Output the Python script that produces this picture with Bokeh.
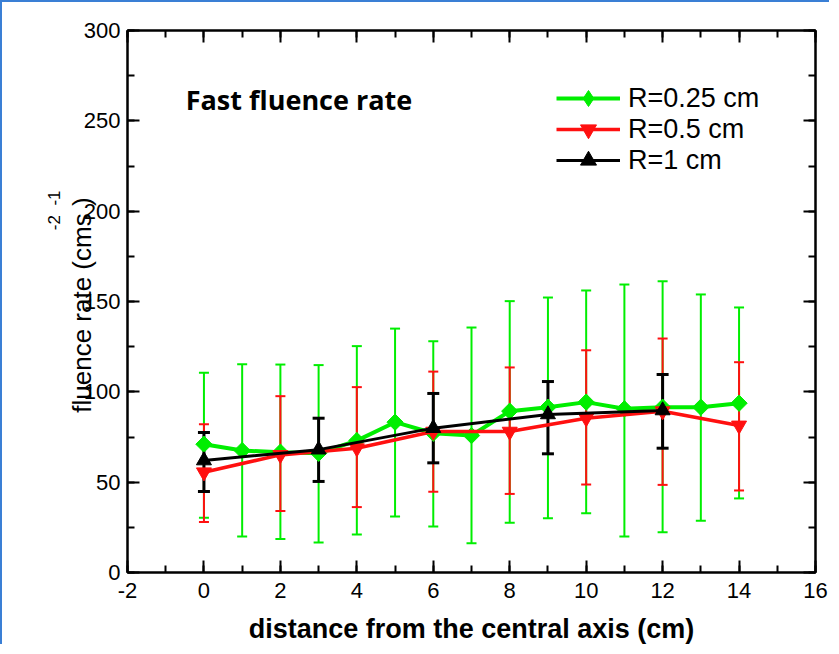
import numpy as np
from bokeh.plotting import figure
from bokeh.models import (ColumnDataSource, Whisker, TeeHead, Range1d, LinearAxis,
                          SingleIntervalTicker, Label, Legend, LegendItem, Title,
                          CustomLabelingPolicy, NumeralTickFormatter)
from bokeh.embed import file_html
from bokeh.resources import INLINE

# ---- data ----
x_green = [0, 1, 2, 3, 4, 5, 6, 7, 8, 9, 10, 11, 12, 13, 14]
y_green = [71, 67.5, 66.6, 66, 73, 83.2, 77.1, 75.8, 89.3, 91.5, 94.3, 90.6, 91.5, 91.5, 93.7]
green_upper = [110.5, 115.3, 115.1, 114.8, 125.3, 135, 128, 135.6, 150.2, 152.2, 156.1, 159.4, 161.2, 153.9, 146.7]
green_lower = [30.3, 19.9, 18.5, 16.6, 21, 31, 25.5, 16.2, 27.5, 30, 32.8, 19.9, 22.3, 28.6, 41]

x_red = [0, 2, 4, 6, 8, 10, 12, 14]
y_red = [55.5, 65.1, 68.8, 78, 78, 85.4, 89.3, 81.4]
red_upper = [82.1, 97.6, 102.6, 111.2, 113.5, 123, 129.5, 116.4]
red_lower = [27.9, 34, 36.2, 44.7, 43.5, 48.7, 48.5, 45.4]

x_black = [0, 3, 6, 9, 12]
y_black = [62, 68, 79.9, 87.5, 89.7]
black_upper = [77.5, 85.4, 99.1, 105.7, 109.6]
black_lower = [44.8, 50.4, 60.7, 65.7, 68.8]

labels = ["R=0.25 cm", "R=0.5 cm", "R=1 cm"]

GREEN = "#00ee00"
RED = "#ff1010"
BLACK = "#000000"
BLUE = "#3a7fd5"
FONT = "Liberation Sans"

p = figure(width=829, height=644, x_range=Range1d(-2, 16), y_range=Range1d(0, 300),
           output_backend="svg", toolbar_location=None,
           min_border_left=125, min_border_right=16, min_border_top=28, min_border_bottom=74,
           background_fill_color="white", border_fill_color="white",
           outline_line_color="black", outline_line_width=2)
p.styles = {"border-top": f"2px solid {BLUE}", "border-left": f"2px solid {BLUE}"}
p.grid.visible = False

no_labels = CustomLabelingPolicy(code="return new Set()")


def style_axis(ax, interval, show_labels=True):
    ax.ticker = SingleIntervalTicker(interval=interval, num_minor_ticks=2)
    ax.axis_line_width = 2
    ax.axis_line_color = "black"
    ax.major_tick_in = 12
    ax.major_tick_out = 0
    ax.minor_tick_in = 7
    ax.minor_tick_out = 0
    ax.major_tick_line_width = 2
    ax.minor_tick_line_width = 2
    ax.major_tick_line_color = "black"
    ax.minor_tick_line_color = "black"
    if show_labels:
        ax.formatter = NumeralTickFormatter(format="0")
        ax.major_label_text_font = FONT
        ax.major_label_text_font_size = "22px"
        ax.major_label_text_color = "black"
    else:
        ax.major_label_policy = no_labels
        ax.major_label_text_font_size = "8px"
        ax.major_label_standoff = 0


xa = p.xaxis[0]
ya = p.yaxis[0]
style_axis(xa, 2)
style_axis(ya, 50)
xa.major_label_standoff = 10
ya.major_label_standoff = 7

xa.axis_label = "distance from the central axis (cm)"
xa.axis_label_text_font = FONT
xa.axis_label_text_font_style = "bold"
xa.axis_label_text_font_size = "27px"
xa.axis_label_text_color = "black"
xa.axis_label_standoff = 13

ya.axis_label = "fluence rate (cms  )"
ya.axis_label_text_font = FONT
ya.axis_label_text_font_style = "normal"
ya.axis_label_text_font_size = "26px"
ya.axis_label_text_color = "black"
ya.axis_label_standoff = -16

top_ax = LinearAxis()
style_axis(top_ax, 2, show_labels=False)
p.add_layout(top_ax, "above")
right_ax = LinearAxis()
style_axis(right_ax, 50, show_labels=False)
p.add_layout(right_ax, "right")

# superscripts of the unit (cm-2 s-1), placed like in the reference
p.add_layout(Title(text="-2\u00a0\u00a0-1", align="right", offset=160, standoff=0,
                   text_font=FONT, text_font_size="17px", text_font_style="normal",
                   text_color="black"), "left")

# ---- error bars ----
def add_whisker(xs, lo, hi, color, lw, cap):
    src = ColumnDataSource(dict(x=xs, lower=lo, upper=hi))
    w = Whisker(source=src, base="x", lower="lower", upper="upper",
                line_color=color, line_width=lw,
                upper_head=TeeHead(size=cap, line_color=color, line_width=lw),
                lower_head=TeeHead(size=cap, line_color=color, line_width=lw))
    p.add_layout(w)

add_whisker(x_green, green_lower, green_upper, GREEN, 2, 10)
add_whisker(x_red, red_lower, red_upper, RED, 2, 10)
add_whisker(x_black, black_lower, black_upper, BLACK, 3, 12)

# ---- lines and markers ----
g_line = p.line(x_green, y_green, line_color=GREEN, line_width=4)
g_mark = p.scatter(x_green, y_green, marker="square", angle=np.pi / 4, size=11.5,
                   fill_color=GREEN, line_color=GREEN)
# diamond drawn inside the rotated squares; used for the legend symbol
g_leg = p.scatter(x_green, y_green, marker="diamond", size=16,
                  fill_color=GREEN, line_color=GREEN)
r_line = p.line(x_red, y_red, line_color=RED, line_width=3.5)
r_mark = p.scatter(x_red, y_red, marker="inverted_triangle", size=15,
                   fill_color=RED, line_color=RED)
b_line = p.line(x_black, y_black, line_color=BLACK, line_width=3)
b_mark = p.scatter(x_black, y_black, marker="triangle", size=15,
                   fill_color=BLACK, line_color=BLACK)

entries = [(labels[0], [g_line, g_leg], 454),
           (labels[1], [r_line, r_mark], 423),
           (labels[2], [b_line, b_mark], 392)]
for lab, rends, ybot in entries:
    lg = Legend(items=[LegendItem(label=lab, renderers=rends)],
                location=(429, ybot), glyph_width=64, glyph_height=40, label_height=40,
                spacing=0, padding=0, margin=0, border_line_color=None,
                background_fill_alpha=0, label_standoff=8,
                label_text_font=FONT, label_text_font_size="27px", label_text_color="black")
    p.add_layout(lg)

# ---- panel title inside the plot ----
p.add_layout(Label(x=2.486, y=261.8, text="Fast fluence rate", text_font="Open Sans",
                   text_font_style="bold", text_font_size="27px", text_color="black",
                   text_align="center", text_baseline="middle"))

open("out.html", "w").write(file_html(p, INLINE))
